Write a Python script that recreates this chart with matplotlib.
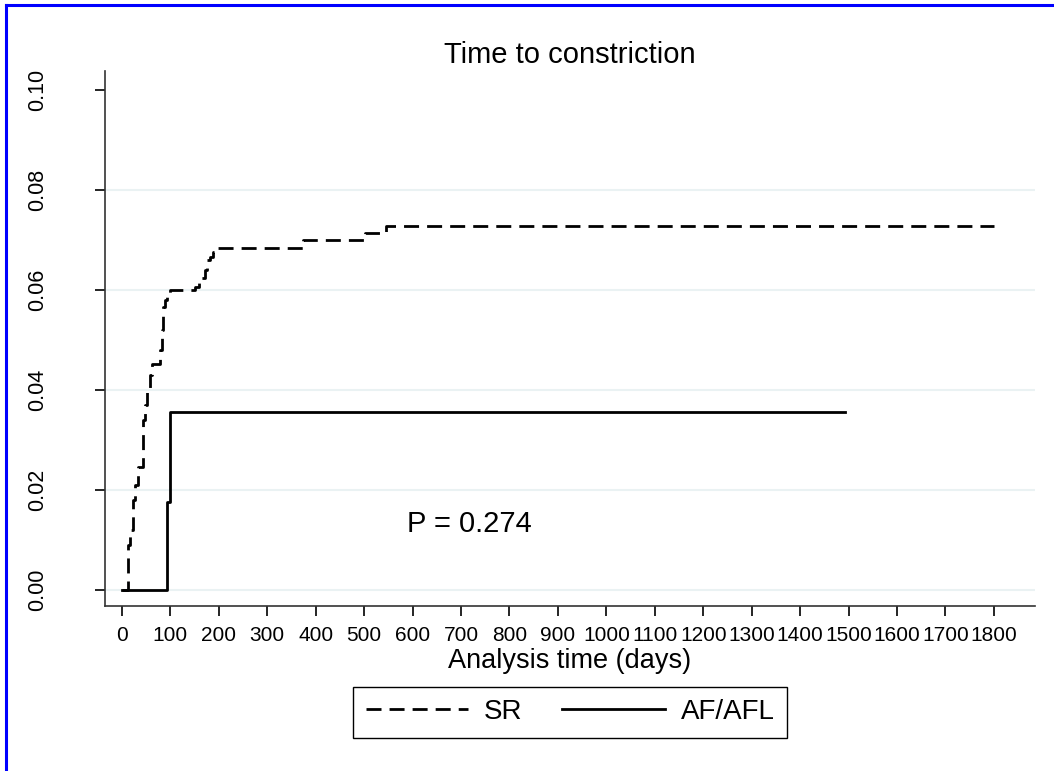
import matplotlib
matplotlib.use("Agg")
import matplotlib.pyplot as plt
from matplotlib.lines import Line2D

plt.rcParams['font.family'] = ['Liberation Sans', 'DejaVu Sans']
plt.rcParams['lines.scale_dashes'] = False

# Kaplan-Meier failure estimates (days, cumulative failure)
sr_days = [0, 13, 17, 22, 27, 34, 43, 47, 52, 58, 61, 78, 83, 85, 89, 92, 99,
           151, 160, 171, 176, 182, 188, 195, 373, 502, 545, 1800]
sr_fail = [0.0, 0.009, 0.012, 0.018, 0.021, 0.0247, 0.034, 0.037, 0.040, 0.043,
           0.0453, 0.048, 0.052, 0.0567, 0.058, 0.0588, 0.0600,
           0.0607, 0.0625, 0.064, 0.066, 0.0667, 0.0677, 0.0685, 0.0700,
           0.0714, 0.0728, 0.0728]

af_days = [0, 92, 99, 1493]
af_fail = [0.0, 0.0177, 0.0357, 0.0357]

x_ticks = list(range(0, 1900, 100))
y_ticks = [0.00, 0.02, 0.04, 0.06, 0.08, 0.10]
grid_y = [0.00, 0.02, 0.04, 0.06, 0.08]

fig = plt.figure(figsize=(10.54, 7.71), dpi=100)
ax = fig.add_axes([105 / 1054, 1 - 606 / 771, (1035 - 105) / 1054, (606 - 71) / 771])

for g in grid_y:
    ax.axhline(g, color="#EAF2F3", lw=1.5, zorder=0)

ax.step(sr_days, sr_fail, where="post", color="black", lw=2.0,
        dashes=(10.8, 5.8), label="SR")
ax.step(af_days, af_fail, where="post", color="black", lw=2.0, label="AF/AFL")

ax.set_xlim(-35, 1885)
ax.set_ylim(-0.0032, 0.1038)
ax.set_xticks(x_ticks)
ax.set_yticks(y_ticks)
ax.set_yticklabels([f"{v:.2f}" for v in y_ticks], rotation=90, va="center")
ax.tick_params(axis="y", length=7.2, width=1.2, pad=34, labelsize=15.5)
ax.tick_params(axis="x", length=7.2, width=1.2, pad=7, labelsize=15)

for s in ["top", "right"]:
    ax.spines[s].set_visible(False)
for s in ["left", "bottom"]:
    ax.spines[s].set_color("#333333")
    ax.spines[s].set_linewidth(1.2)

ax.set_title("Time to constriction", fontsize=21, pad=6)
ax.set_xlabel("Analysis time (days)", fontsize=19.5, labelpad=2)
ax.text(588, 0.0132, "P = 0.274", fontsize=21, va="center", ha="left")

leg = fig.legend(loc="center", bbox_to_anchor=(570 / 1054, 1 - 712 / 771),
                 ncol=2, fontsize=20, handlelength=3.7, handletextpad=0.55,
                 columnspacing=1.45, fancybox=False, framealpha=1,
                 borderpad=0.45)
leg.get_frame().set_edgecolor("black")
leg.get_frame().set_linewidth(1.0)

# blue frame on top and left edges
fig.add_artist(Line2D([6 / 1054, 1], [1 - 5 / 771, 1 - 5 / 771],
                      transform=fig.transFigure, color="#0000FF", lw=2.2))
fig.add_artist(Line2D([6 / 1054, 6 / 1054], [0, 1 - 5 / 771],
                      transform=fig.transFigure, color="#0000FF", lw=2.2))

fig.savefig("out.png", dpi=100)
